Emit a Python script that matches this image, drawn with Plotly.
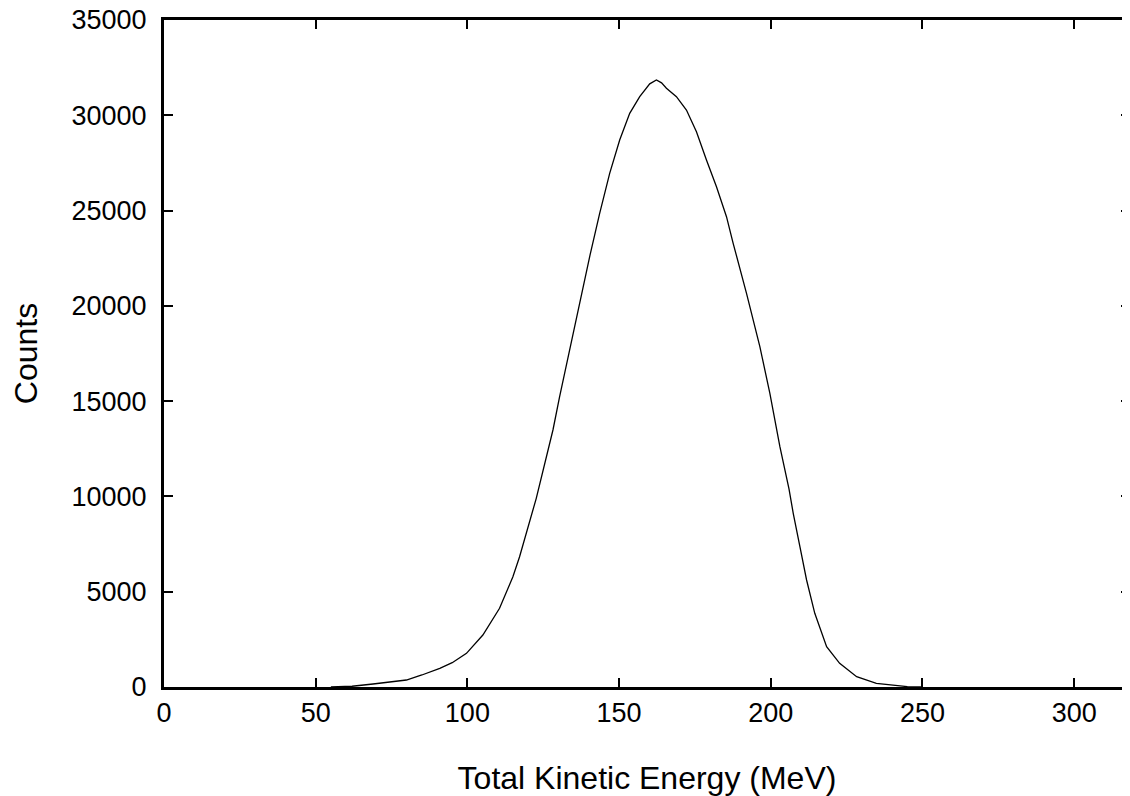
import plotly.graph_objects as go

# Total kinetic energy (MeV) and counts
energy_mev = [55.0, 62.0, 68.9, 75.0, 79.9, 85.0, 90.9, 95.0, 99.7, 105.1, 110.6,
              115.0, 117.2, 122.7, 128.2, 130.4, 133.7, 136.5, 138.7, 140.4,
              143.6, 146.9, 150.2, 153.5, 156.8, 158.5, 160.1, 162.3, 164.0,
              165.6, 168.9, 172.2, 175.5, 178.8, 182.1, 185.4, 187.6, 192.0,
              196.4, 199.7, 203.0, 206.0, 207.4, 209.6, 211.8, 214.5, 218.4,
              222.7, 228.3, 234.8, 240.0, 245.0, 250.0]
counts = [0, 40, 157, 260, 367, 630, 981, 1275, 1768, 2729, 4130,
          5788, 6838, 9900, 13486, 15234, 17684, 19783, 21530, 22650,
          24857, 26956, 28703, 30104, 30975, 31350, 31650, 31850, 31700,
          31416, 30975, 30277, 29140, 27654, 26253, 24680, 23283, 20659,
          17857, 15411, 12610, 10400, 9115, 7362, 5615, 3867, 2115,
          1244, 540, 194, 90, 20, 0]

x_ticks = [0, 50, 100, 150, 200, 250, 300]
y_ticks = [0, 5000, 10000, 15000, 20000, 25000, 30000, 35000]
y_tick_text = [str(v) for v in y_ticks]
x_tick_text = [str(v) for v in x_ticks]

FONT = "Liberation Sans"

fig = go.Figure()
fig.add_trace(go.Scatter(x=energy_mev, y=counts, mode="lines",
                         line=dict(color="black", width=1.3), showlegend=False))
# invisible trace to carry right-side ticks
fig.add_trace(go.Scatter(x=[0], y=[0], yaxis="y2", mode="lines",
                         line=dict(width=0), showlegend=False, hoverinfo="skip"))

fig.update_layout(
    width=1122, height=788,
    margin=dict(l=156, r=0, t=12, b=109),
    paper_bgcolor="white", plot_bgcolor="white",
    font=dict(family=FONT, size=27, color="black"),
    xaxis=dict(range=[0, 318.4], tickvals=x_ticks, ticktext=x_tick_text,
               ticks="inside", ticklen=9, automargin=False,
               tickwidth=2, tickcolor="black", showline=True, linewidth=3,
               linecolor="black", mirror="ticks", showgrid=False, zeroline=False,
               title=dict(text="Total Kinetic Energy (MeV)", standoff=43),
               ticklabelstandoff=0, ticklabeloverflow="allow"),
    yaxis=dict(range=[0, 35000], tickvals=y_ticks, ticktext=y_tick_text,
               ticks="inside", ticklen=9, automargin=False,
               tickwidth=2, tickcolor="black", showline=True, linewidth=3,
               linecolor="black", showgrid=False, zeroline=False,
               title=dict(text="Counts", standoff=30), ticklabelstandoff=9,
               ticklabeloverflow="allow"),
    yaxis2=dict(range=[0, 35000], tickvals=y_ticks, overlaying="y", side="right",
                ticks="inside", ticklen=9, tickwidth=2, tickcolor="black",
                showticklabels=False, showline=False, showgrid=False,
                zeroline=False, automargin=False),
)

fig.write_html("out.html")
